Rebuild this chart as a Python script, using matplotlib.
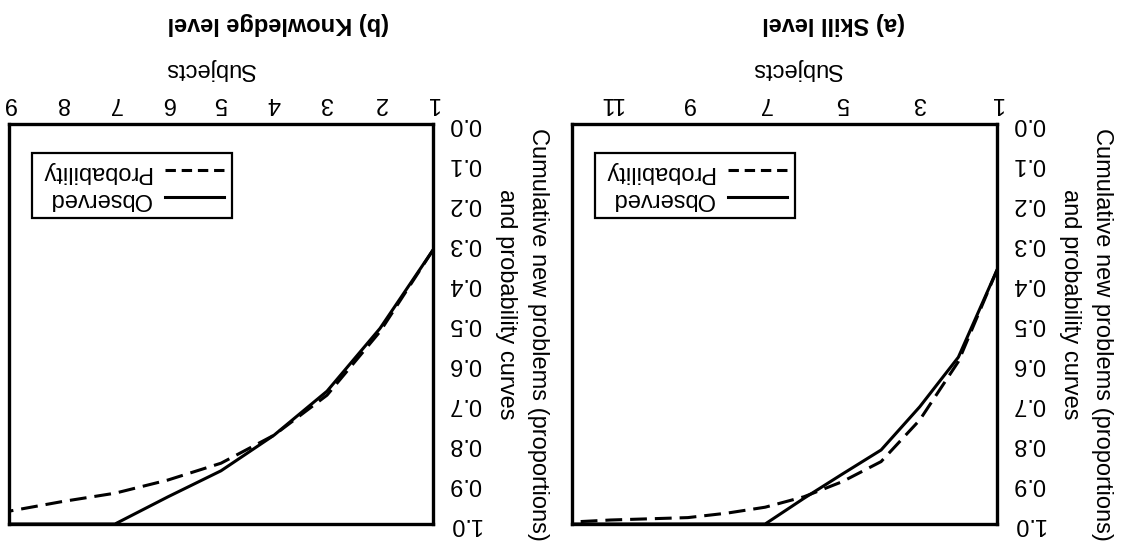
import matplotlib
matplotlib.use("Agg")
import matplotlib.pyplot as plt
from matplotlib.lines import Line2D

plt.rcParams['font.family'] = ['Liberation Sans', 'DejaVu Sans']

# ---- data ----
skill_subjects = [1, 2, 3, 4, 5, 6, 7, 8, 9, 10, 11, 12]
skill_observed = [0.365, 0.583, 0.707, 0.815, 0.875, 0.936, 1.0, 1.0, 1.0, 1.0, 1.0, 1.0]
skill_probability = [0.365, 0.594, 0.740, 0.844, 0.894, 0.932, 0.958, 0.973, 0.984, 0.987, 0.990, 0.995]
skill_xticks = [1, 3, 5, 7, 9, 11]

know_subjects = [1, 2, 3, 4, 5, 6, 7, 8, 9]
know_observed = [0.315, 0.511, 0.668, 0.778, 0.867, 0.932, 1.0, 1.0, 1.0]
know_probability = [0.315, 0.519, 0.678, 0.778, 0.848, 0.890, 0.923, 0.944, 0.968]
know_xticks = [1, 2, 3, 4, 5, 6, 7, 8, 9]

y_ticks = [0.0, 0.1, 0.2, 0.3, 0.4, 0.5, 0.6, 0.7, 0.8, 0.9, 1.0]
y_ticklabels = [f"{v:.1f}" for v in y_ticks]

titles = ["(a) Skill level", "(b) Knowledge level"]
xlabel = "Subjects"
ylabel_line1 = "Cumulative new problems (proportions)"
ylabel_line2 = "and probability curves"
legend_labels = ["Observed", "Probability"]

FS = 17
LW = 2.2

W, H = 1122, 542
fig = plt.figure(figsize=(W / 100, H / 100), dpi=100)
ax_a = fig.add_axes([572 / W, 1 - 524 / H, 425 / W, 400 / H])
ax_b = fig.add_axes([9 / W, 1 - 524 / H, 424 / W, 400 / H])


def draw(ax, x, obs, prob, xticks, xmax, title, title_x, sub_x):
    ax.plot(x, obs, color='black', lw=LW, solid_joinstyle='miter')
    ax.plot(x, prob, color='black', lw=LW, dashes=(5.5, 2.6))
    ax.set_xlim(xmax, 1)
    ax.set_ylim(1, 0)
    ax.xaxis.tick_top()
    ax.yaxis.tick_right()
    ax.set_xticks(xticks)
    ax.set_xticklabels([str(t) for t in xticks], rotation=180, fontsize=FS)
    ax.set_yticks(y_ticks)
    ax.set_yticklabels(y_ticklabels, rotation=180, fontsize=FS, va='center')
    ax.tick_params(axis='both', length=0)
    ax.tick_params(axis='x', pad=7)
    ax.tick_params(axis='y', pad=11)
    for sp in ax.spines.values():
        sp.set_linewidth(LW + 0.2)
    ax.text(title_x, 1.25, title, transform=ax.transAxes, rotation=180,
            ha='center', va='center', fontsize=FS, fontweight='bold')
    ax.text(sub_x, 1.1375, xlabel, transform=ax.transAxes, rotation=180,
            ha='center', va='center', fontsize=FS)
    ax.text(1.247, 0.474, ylabel_line1, transform=ax.transAxes, rotation=270,
            ha='center', va='center', fontsize=FS)
    ax.text(1.172, 0.549, ylabel_line2, transform=ax.transAxes, rotation=270,
            ha='center', va='center', fontsize=FS)
    h_prob = Line2D([], [], color='black', lw=LW, dashes=(3.4, 1.9))
    h_obs = Line2D([], [], color='black', lw=LW)
    leg = ax.legend([h_prob, h_obs], [legend_labels[1], legend_labels[0]],
                    loc='upper left', bbox_to_anchor=(0.054, 0.9275),
                    borderaxespad=0, markerfirst=False, fancybox=False,
                    framealpha=1, edgecolor='black', fontsize=FS,
                    handlelength=2.5, labelspacing=0.2, borderpad=0.35,
                    handletextpad=0.6)
    leg.get_frame().set_linewidth(1.6)
    for t in leg.get_texts():
        t.set_rotation(180)


draw(ax_a, skill_subjects, skill_observed, skill_probability, skill_xticks, 12,
     titles[0], 0.616, 0.529)
draw(ax_b, know_subjects, know_observed, know_probability, know_xticks, 9,
     titles[1], 0.634, 0.474)

fig.savefig("out.png", dpi=100)
